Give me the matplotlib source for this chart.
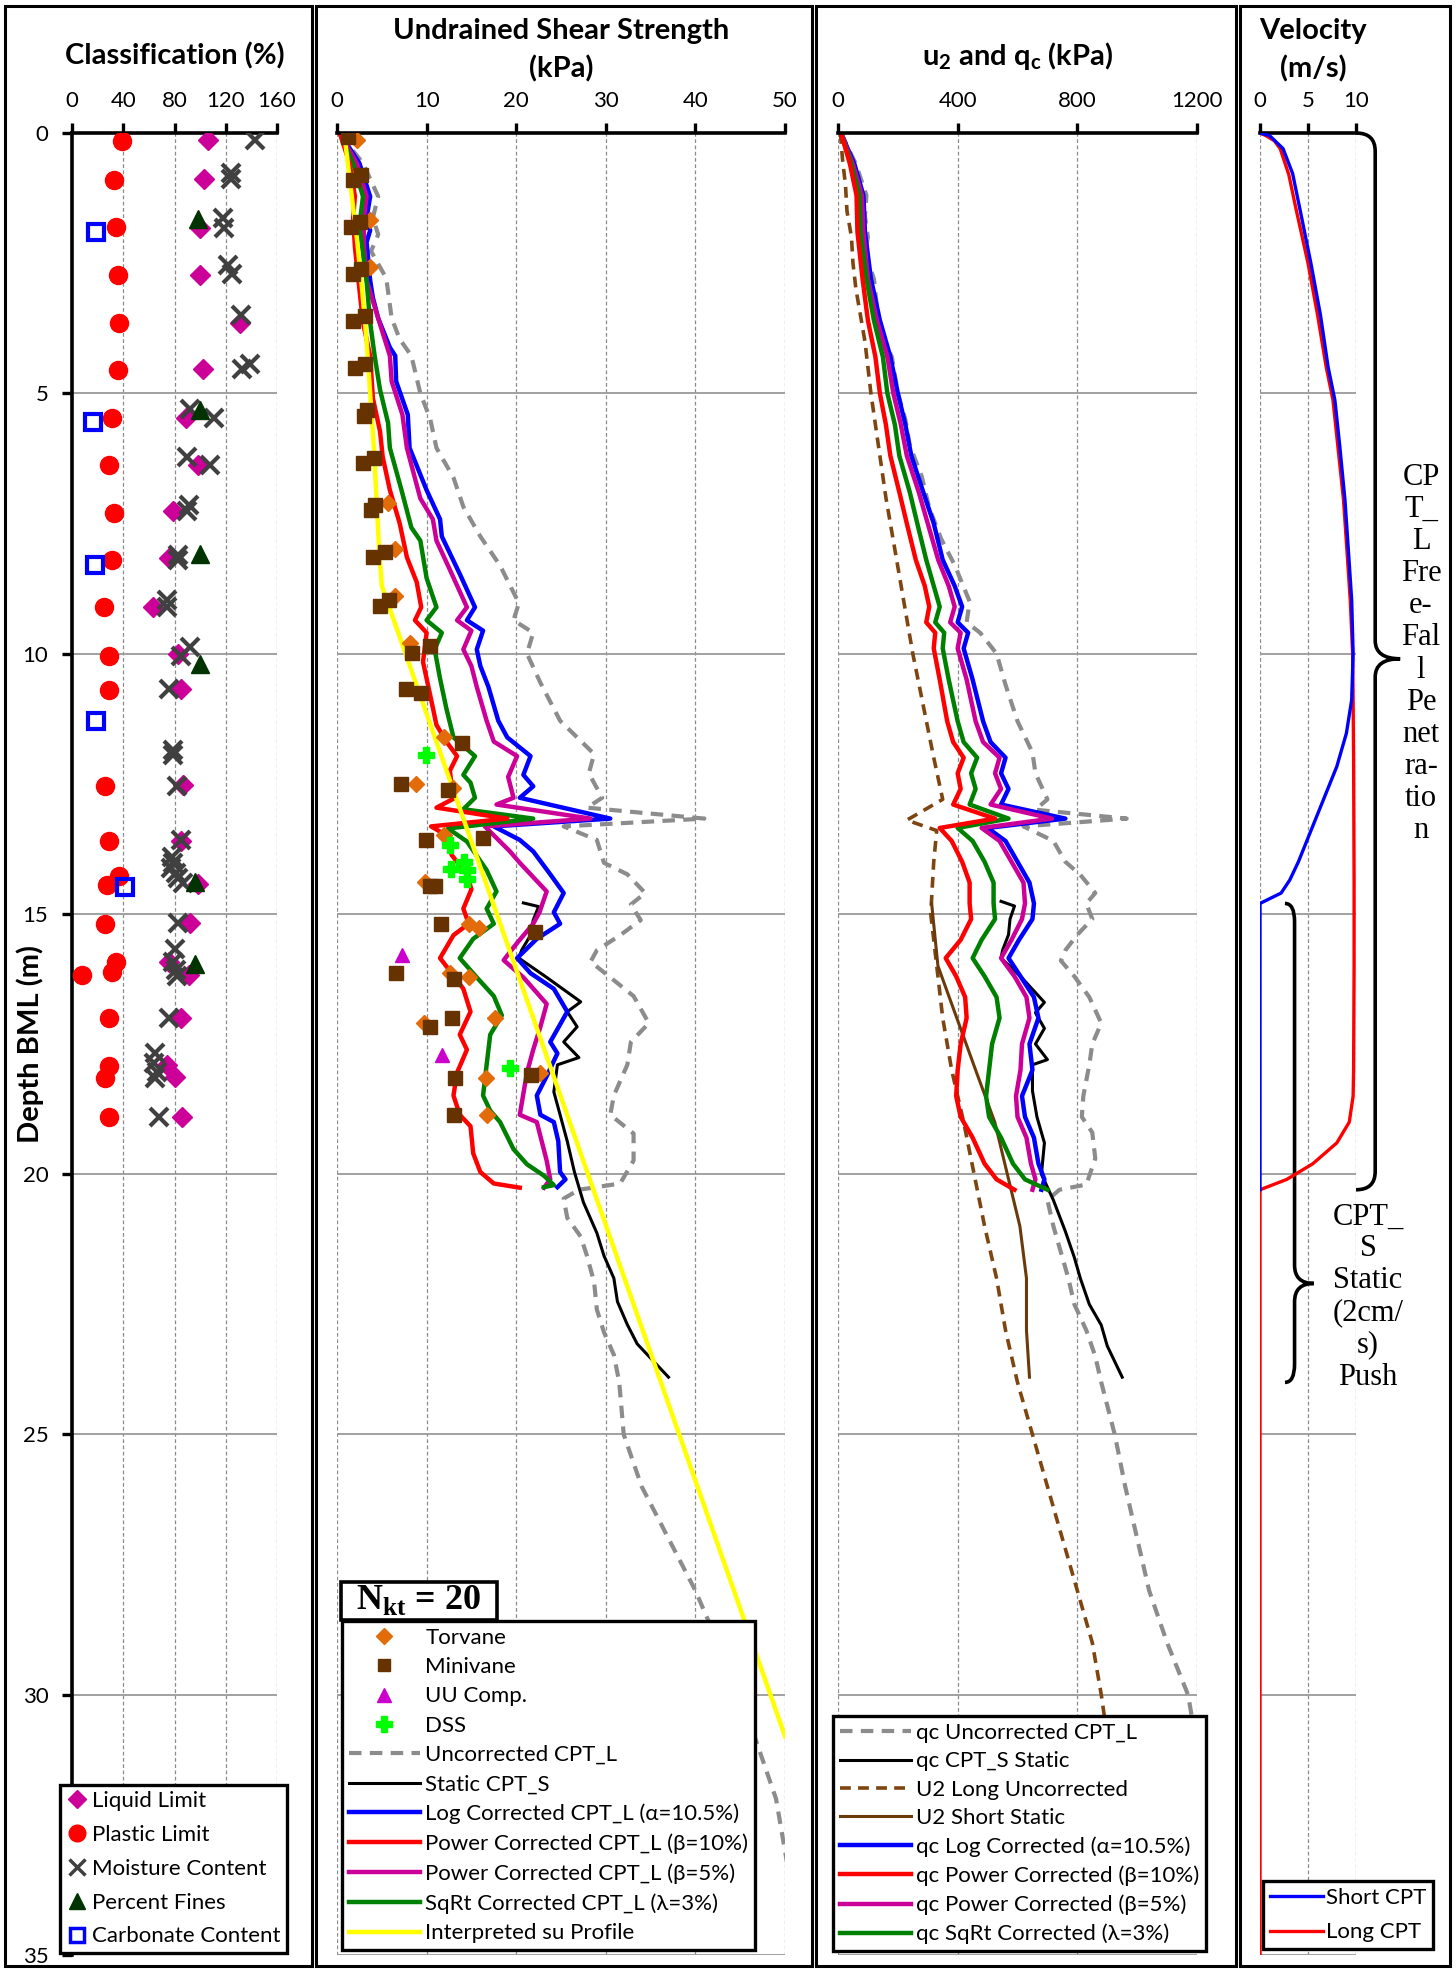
import numpy as np
import matplotlib.pyplot as plt
from matplotlib.lines import Line2D
from matplotlib.path import Path
from matplotlib.patches import PathPatch, Rectangle

plt.rcParams['font.family'] = ['Lato', 'DejaVu Sans']

# ---------------- classification data ----------------
ll_pct = [106, 103, 100, 100, 131, 102, 89, 98, 79, 76, 63, 83, 85, 87, 85, 98, 92, 76, 91, 85, 74, 80, 86]
ll_dep = [0.14, 0.89, 1.82, 2.72, 3.65, 4.54, 5.48, 6.38, 7.27, 8.16, 9.11, 10.0, 10.69, 12.52, 13.6,
          14.42, 15.18, 15.92, 16.17, 17.0, 17.9, 18.14, 18.9]
pl_pct = [39, 33, 34, 36, 37, 36, 31, 29, 33, 31, 25, 29, 29, 26, 29, 37, 27, 26, 34, 31, 8, 29, 29, 26, 29]
pl_dep = [0.15, 0.91, 1.81, 2.73, 3.65, 4.55, 5.48, 6.38, 7.30, 8.2, 9.11, 10.04, 10.70, 12.54, 13.61,
          14.27, 14.44, 15.19, 15.93, 16.11, 16.17, 17.0, 17.93, 18.16, 18.9]
mc_pct = [143, 124, 124, 118, 119, 122, 125, 132, 139, 133, 92, 111, 90, 108, 91, 90, 83, 83, 74, 74,
          92, 85, 76, 79, 79, 82, 85, 78, 79, 77, 81, 83, 87, 83, 80, 79, 81, 82, 76, 65, 64, 66, 65, 68]
mc_dep = [0.14, 0.76, 0.89, 1.63, 1.82, 2.54, 2.70, 3.5, 4.44, 4.54, 5.3, 5.47, 6.22, 6.38, 7.15, 7.27,
          8.1, 8.2, 8.97, 9.11, 9.87, 10.04, 10.69, 11.85, 11.95, 12.54, 13.59, 13.9, 14.03, 14.12,
          14.22, 14.31, 14.41, 15.18, 15.68, 15.92, 16.08, 16.19, 17.0, 17.68, 17.87, 18.03, 18.16, 18.9]
pf_pct = [98, 100, 100, 100, 96, 96]
pf_dep = [1.65, 5.32, 8.08, 10.2, 14.38, 15.96]
cc_pct = [19, 16, 18, 19, 41]
cc_dep = [1.9, 5.56, 8.3, 11.29, 14.49]

# ---------------- shear strength data (kPa) ----------------
tv_su = [2.2, 3.7, 3.7, 5.7, 6.5, 6.5, 8.1, 11.9, 8.8, 12.9, 11.9, 9.8, 14.7, 15.8, 12.6, 14.7, 17.6,
         9.7, 16.6, 22.7, 16.7]
tv_dep = [0.14, 1.67, 2.57, 7.1, 8.0, 8.9, 9.8, 11.61, 12.51, 12.58, 13.48, 14.38, 15.19, 15.28, 16.14,
          16.22, 17.0, 17.1, 18.16, 18.05, 18.87]
mv_su = [1.2, 1.8, 2.7, 1.6, 2.6, 1.8, 2.7, 1.8, 3.1, 2.0, 3.1, 3.0, 3.3, 2.9, 4.1, 3.8, 4.2, 4.0, 5.4,
         4.8, 5.8, 8.4, 10.4, 7.7, 9.4, 14.0, 7.1, 12.4, 9.9, 16.3, 10.4, 10.9, 11.6, 22.1, 6.6, 13.1,
         12.8, 10.4, 13.2, 21.6, 13.1]
mv_dep = [0.08, 0.9, 0.8, 1.8, 1.71, 2.71, 2.61, 3.62, 3.52, 4.52, 4.43, 5.43, 5.33, 6.34, 6.24, 7.25,
          7.14, 8.15, 8.05, 9.08, 8.97, 9.98, 9.86, 10.68, 10.76, 11.71, 12.51, 12.62, 13.59, 13.54,
          14.46, 14.46, 15.19, 15.35, 16.14, 16.25, 17.0, 17.17, 18.16, 18.09, 18.87]
uu_su = [7.3, 11.7]
uu_dep = [15.79, 17.72]
dss_su = [9.9, 12.6, 14.2, 12.7, 14.5, 14.5, 19.3]
dss_dep = [11.95, 13.67, 14.0, 14.13, 14.16, 14.33, 17.96]

unc_dep = [0.0, 0.3, 0.58, 1.22, 1.63, 1.95, 2.27, 2.79, 3.56, 3.96, 4.28, 5.0, 5.49, 6.05, 6.62, 7.18,
           7.75, 8.31, 9.03, 9.36, 9.6, 10.0, 10.56, 11.29, 11.93, 12.3, 12.77, 12.96, 13.17, 13.32,
           13.58, 14.02, 14.24, 14.6, 14.82, 15.12, 15.41, 15.7, 15.92, 16.22, 16.58, 17.1, 17.46, 17.9,
           18.49, 18.86, 19.22, 19.74, 20.18, 20.3, 20.47, 20.84, 21.2, 21.57, 22.08, 22.6, 23.04, 23.47,
           24, 25, 26, 27, 28, 29, 30, 31, 32, 33, 34, 35]
unc_su = [0.5, 1.6, 2.9, 4.6, 4.0, 4.6, 3.8, 5.5, 6.1, 7.0, 8.3, 9.3, 10.4, 11.1, 13.0, 14.1, 16.0, 18.2,
          20.3, 19.7, 21.9, 21.2, 22.7, 24.9, 28.7, 28.1, 29.6, 27.9, 41.0, 25.3, 29.0, 29.8, 32.4, 34.4,
          32.8, 33.9, 31.6, 29.0, 28.3, 30.5, 33.1, 34.8, 32.8, 32.4, 30.9, 30.5, 33.1, 33.1, 31.6, 27.0,
          25.3, 25.7, 27.2, 27.9, 28.7, 29.0, 29.8, 30.9, 31.5, 32, 34, 37, 40, 42.5, 45, 47, 49, 50, 51, 52]

sta_dep = [14.79, 14.86, 15.12, 15.41, 15.7, 15.85, 16.22, 16.69, 16.88, 17.17, 17.46, 17.76, 17.9,
           18.42, 18.86, 19.37, 19.96, 20.54, 21.13, 21.57, 22.0, 22.45, 22.89, 23.26, 23.9]
sta_su = [20.8, 22.5, 21.9, 21.6, 20.6, 20.3, 23.4, 27.2, 25.7, 26.8, 25.3, 27.0, 24.6, 24.2, 24.9,
          25.7, 26.5, 27.5, 29.0, 29.8, 30.9, 31.3, 32.4, 33.5, 37.0]

log_dep = [0.0, 0.58, 1.22, 1.63, 1.87, 2.1, 2.83, 3.16, 3.56, 4.12, 4.28, 4.77, 5.41, 6.05, 6.86, 7.42,
           7.75, 8.47, 9.11, 9.36, 9.56, 9.92, 10.24, 10.64, 11.29, 11.61, 11.97, 12.33, 12.55, 12.77,
           13.17, 13.32, 13.58, 13.8, 14.24, 14.6, 14.97, 15.19, 15.48, 15.85, 16.14, 16.44, 16.88,
           17.46, 17.68, 18.12, 18.49, 18.86, 19.0, 19.37, 19.96, 20.1, 20.25]
log_su = [0.3, 2.5, 3.7, 3.3, 3.7, 3.3, 3.7, 4.0, 4.6, 5.9, 6.5, 6.6, 7.9, 8.1, 10.0, 11.5, 11.7, 13.7,
          15.4, 14.5, 16.3, 15.6, 16.0, 16.9, 18.0, 19.0, 21.6, 20.8, 21.9, 20.4, 30.5, 17.5, 20.4, 21.9,
          23.8, 25.3, 24.2, 24.9, 22.3, 20.1, 21.6, 24.2, 25.7, 23.8, 24.6, 23.4, 22.3, 22.7, 24.2, 24.7,
          24.9, 25.5, 24.6]

pw5_dep = [0.0, 0.58, 1.22, 1.63, 2.1, 2.83, 3.56, 4.28, 4.77, 5.41, 6.05, 7.02, 7.42, 7.83, 8.39, 9.11,
           9.36, 9.56, 9.92, 10.24, 10.64, 11.29, 11.69, 11.97, 12.37, 12.77, 12.9, 13.17, 13.32, 13.8,
           14.02, 14.57, 14.97, 15.19, 15.56, 15.89, 16.22, 16.73, 17.17, 17.61, 18.05, 18.86, 19.0,
           19.74, 20.1, 20.26]
pw5_su = [0.3, 2.2, 3.3, 3.0, 3.0, 3.3, 4.6, 5.9, 6.1, 7.3, 7.8, 9.3, 10.7, 11.1, 12.6, 14.5, 13.4,
          15.0, 14.1, 15.0, 15.6, 16.7, 17.5, 20.1, 19.1, 19.7, 17.8, 28.3, 16.5, 19.3, 20.4, 23.4, 22.6,
          21.9, 20.1, 18.6, 20.8, 23.4, 22.7, 21.9, 21.2, 20.4, 22.3, 23.4, 23.8, 23.1]

sq_dep = [0.0, 0.58, 1.22, 1.79, 2.83, 3.64, 4.28, 4.93, 5.57, 6.05, 6.86, 7.58, 7.83, 8.55, 9.11, 9.36,
          9.6, 9.92, 10.48, 11.05, 11.61, 11.97, 12.33, 12.48, 12.77, 12.99, 13.17, 13.36, 13.61, 14.16,
          14.57, 14.9, 15.19, 15.48, 15.85, 16.22, 16.58, 16.95, 17.32, 17.9, 18.49, 18.78, 19.0, 19.52,
          19.81, 20.03, 20.21, 20.25]
sq_su = [0.3, 1.8, 2.9, 2.5, 3.3, 3.7, 4.2, 4.8, 5.7, 5.9, 7.2, 8.3, 9.3, 10.0, 11.1, 10.0, 11.7, 10.9,
         11.5, 12.2, 13.0, 15.4, 14.1, 14.9, 15.4, 14.1, 21.9, 12.4, 14.5, 16.7, 17.8, 16.7, 17.5, 15.2,
         13.7, 15.6, 17.5, 18.4, 17.1, 16.7, 16.3, 17.1, 18.2, 19.7, 21.2, 23.1, 24.2, 23.1]

pw10_dep = [0.0, 0.58, 1.22, 1.63, 2.19, 3.0, 3.64, 4.28, 5.09, 5.73, 6.22, 6.86, 7.5, 8.15, 8.63, 9.11,
            9.36, 9.6, 10.16, 10.8, 11.37, 11.69, 11.97, 12.25, 12.55, 12.77, 12.96, 13.17, 13.32, 13.5,
            13.87, 14.24, 14.53, 14.9, 15.19, 15.41, 15.85, 16.14, 16.44, 16.88, 17.32, 17.61, 18.05,
            18.49, 18.86, 19.08, 19.6, 19.96, 20.18, 20.26]
pw10_su = [0.3, 1.4, 2.0, 1.8, 2.0, 2.5, 2.9, 3.7, 4.0, 4.8, 5.1, 5.9, 7.0, 7.8, 8.9, 9.4, 8.7, 10.0, 9.6,
           10.4, 11.1, 12.2, 13.4, 12.6, 12.8, 13.2, 11.1, 19.0, 10.5, 12.3, 12.8, 14.5, 15.0, 14.1, 14.7,
           13.0, 11.5, 12.8, 14.1, 14.9, 13.7, 14.5, 13.4, 13.0, 13.7, 14.9, 15.2, 16.0, 17.5, 20.4]

int_dep = [0.0, 1.0, 2.0, 3.0, 4.0, 5.0, 6.0, 7.0, 8.0, 8.7, 30.8]
int_su = [0.8, 1.5, 2.2, 2.8, 3.3, 3.7, 4.1, 4.4, 4.7, 5.0, 50.0]

# ---------------- u2 and qc data (kPa) ----------------
qcu_dep = [0, 0.6, 1.2, 1.6, 2.0, 2.3, 2.8, 3.6, 4.0, 4.3, 5.0, 5.5, 6.0, 6.6, 7.2, 7.8, 8.3, 9.0, 9.4,
           9.6, 10.0, 10.6, 11.3, 11.9, 12.3, 12.8, 13.0, 13.17, 13.32, 13.6, 14.0, 14.25, 14.6, 14.8,
           15.1, 15.4, 15.7, 15.9, 16.2, 16.6, 17.1, 17.5, 17.9, 18.5, 18.9, 19.2, 19.7, 20.2, 20.3,
           20.5, 21, 21.5, 22, 22.5, 23, 23.5, 24, 25, 26, 27, 28, 29, 30, 31, 32, 33, 34, 35]
qcu = [10, 60, 95, 90, 100, 90, 120, 135, 155, 180, 200, 225, 240, 280, 305, 345, 390, 440, 430, 475,
       530, 560, 600, 650, 660, 700, 660, 965, 620, 720, 760, 810, 860, 830, 850, 800, 760, 745, 790,
       840, 880, 850, 840, 820, 815, 850, 860, 830, 740,
       700, 720, 745, 770, 790, 830, 860, 880, 925, 960, 1000, 1040, 1100, 1170, 1200, 1230, 1250, 1260, 1270]
qcs_dep = [14.76, 14.85, 15.1, 15.4, 15.7, 15.85, 16.2, 16.7, 16.9, 17.2, 17.5, 17.8, 17.9, 18.4, 18.9,
           19.4, 20.0, 20.5, 21.1, 21.6, 22.0, 22.5, 22.9, 23.3, 23.9]
qcs = [545, 590, 575, 570, 550, 545, 610, 690, 660, 690, 660, 700, 650, 650, 665, 690, 680, 720, 760,
       790, 810, 840, 880, 900, 950]
u2l_dep = [0, 0.5, 1, 1.5, 2, 2.5, 3, 4, 5, 6, 7, 8, 9, 10, 11, 12, 12.8, 13.2, 13.4, 14, 15, 16, 17,
           18, 19, 20, 21, 22, 23, 24, 25, 26, 27, 28, 29, 30, 31, 32, 33, 34, 35]
u2l = [8, 15, 25, 30, 45, 50, 60, 90, 110, 135, 160, 190, 220, 250, 285, 320, 350, 230, 330, 320, 310,
       330, 350, 380, 420, 455, 490, 530, 560, 600, 650, 700, 750, 800, 850, 880, 905, 920, 935, 950, 985]
u2s_dep = [14.8, 16, 17, 18, 19, 20, 21, 22, 23, 23.9]
u2s = [313, 334, 397, 460, 524, 566, 608, 630, 630, 640]

qc_dep = [0, 0.6, 1.2, 1.9, 2.8, 3.6, 4.3, 5.0, 5.6, 6.2, 6.9, 7.5, 8.2, 8.7, 9.1, 9.4, 9.6, 9.9, 10.5,
          11.3, 11.7, 12.0, 12.3, 12.6, 12.9, 13.17, 13.35, 13.6, 14.0, 14.4, 14.8, 15.1, 15.5, 15.85,
          16.2, 16.6, 17.0, 17.5, 18.0, 18.5, 18.9, 19.3, 19.8, 20.1, 20.3]
qc_log = [10, 55, 85, 90, 110, 140, 175, 200, 225, 245, 285, 320, 350, 390, 415, 400, 435, 420, 450, 485,
          510, 560, 545, 570, 545, 760, 500, 560, 600, 640, 655, 650, 605, 570, 610, 655, 670, 640, 650,
          615, 625, 655, 670, 690, 680]
qc_pw5 = [10, 50, 80, 85, 100, 130, 165, 185, 210, 230, 270, 300, 335, 370, 390, 375, 410, 400, 430, 460,
          485, 540, 525, 545, 510, 715, 480, 540, 580, 620, 625, 615, 580, 545, 590, 630, 640, 615, 610,
          595, 600, 630, 645, 660, 650]
qc_sq = [10, 45, 72, 75, 95, 120, 150, 165, 190, 205, 240, 265, 295, 320, 340, 325, 355, 350, 370, 400,
         420, 465, 445, 460, 440, 570, 400, 450, 490, 520, 520, 525, 480, 450, 490, 530, 540, 515, 505,
         495, 505, 545, 585, 625, 700]
qc_pw10 = [10, 40, 62, 65, 82, 100, 125, 140, 160, 175, 205, 230, 260, 290, 305, 295, 325, 320, 340, 365,
           385, 420, 400, 410, 385, 525, 340, 380, 415, 440, 440, 445, 410, 360, 395, 425, 430, 410, 400,
           395, 410, 450, 490, 530, 590]

# ---------------- velocity data (m/s) ----------------
vl_dep = [0, 0.05, 0.15, 0.3, 0.8, 1.5, 2.5, 3.5, 4.5, 5.13, 6, 7.05, 8, 8.97, 10.0, 10.9, 12, 14.35,
          16, 18, 18.5, 19.0, 19.4, 19.8, 20.1, 20.3, 35]
vl = [0, 0.6, 1.5, 2.1, 3.0, 3.8, 5.0, 6.0, 6.9, 7.6, 8.1, 8.7, 9.05, 9.4, 9.65, 9.7, 9.75, 9.8, 9.8,
      9.75, 9.7, 9.3, 8.0, 5.5, 2.8, 0, 0]
vs_dep = [0, 0.05, 0.3, 0.78, 1.5, 2.5, 3.5, 4.5, 5.13, 6, 7.05, 8, 8.97, 10.0, 10.89, 11.53, 12.17,
          12.81, 13.45, 14.0, 14.35, 14.6, 14.8, 20.3]
vs = [0, 1.0, 2.4, 3.4, 4.2, 5.3, 6.3, 7.1, 7.8, 8.3, 8.85, 9.2, 9.55, 9.7, 9.55, 9.0, 8.0, 6.6, 5.2,
      4.0, 3.1, 2.2, 0, 0]

# ---------------- figure ----------------
W, H = 1456, 1971
fig = plt.figure(figsize=(W / 100, H / 100), dpi=100)
Y0, Y1 = 133, 1955
FS = 16
TFS = 21


def add_panel(x0, x1):
    return fig.add_axes([x0 / W, 1 - Y1 / H, (x1 - x0) / W, (Y1 - Y0) / H])


def style(ax, xmax, step, first=False):
    ax.set_xlim(0, xmax)
    ax.set_ylim(35, 0)
    ax.xaxis.tick_top()
    ax.set_xticks(np.arange(0, xmax + step / 2, step))
    ax.set_yticks(range(0, 36, 5))
    ax.spines['right'].set_visible(False)
    ax.spines['bottom'].set_visible(False)
    ax.spines['top'].set_linewidth(2.6)
    ax.spines['left'].set_linewidth(2.6)
    ax.spines['left'].set_visible(first)
    ax.tick_params(axis='x', direction='out', length=7, width=2.4, labelsize=FS, pad=9)
    if first:
        ax.tick_params(axis='y', direction='out', length=7, width=2.4, labelsize=FS, pad=10)
    else:
        ax.tick_params(axis='y', length=0, labelleft=False)
    ax.xaxis.grid(True, ls=(0, (3, 2)), color='#8c8c8c', lw=0.9)
    ax.yaxis.grid(True, ls='-', color='#9a9a9a', lw=1.3)
    ax.set_axisbelow(True)


def box_legend(ax, handles, labels, x0, y0, **kw):
    leg = ax.legend(handles, labels, loc='lower left', bbox_to_anchor=(x0 / W, 1 - y0 / H),
                    bbox_transform=fig.transFigure, fontsize=FS, frameon=True, fancybox=False,
                    edgecolor='black', framealpha=1, borderaxespad=0, **kw)
    leg.get_frame().set_linewidth(2.4)
    return leg


# panel frames
for bx0, bx1 in [(5, 312), (316, 812), (816, 1236), (1240, 1450)]:
    fig.add_artist(Rectangle((bx0 / W, 1 - 1966 / H), (bx1 - bx0) / W, (1966 - 6) / H,
                             transform=fig.transFigure, fill=False, ec='black', lw=2.2))

# ---- classification ----
ax1 = add_panel(72, 277)
style(ax1, 160, 40, first=True)
ax1.plot(ll_pct, ll_dep, 'D', color='#CC0099', ms=10, ls='none', zorder=3)
ax1.plot(pl_pct, pl_dep, 'o', color='red', ms=13, ls='none', zorder=3)
ax1.plot(mc_pct, mc_dep, 'x', color='#404040', ms=13, mew=3, ls='none', zorder=4)
ax1.plot(pf_pct, pf_dep, '^', color='#003300', ms=13, ls='none', zorder=5)
ax1.plot(cc_pct, cc_dep, 's', mfc='none', mec='blue', mew=3, ms=11, ls='none', zorder=5)
h1 = [Line2D([], [], ls='none', marker='D', color='#CC0099', ms=9),
      Line2D([], [], ls='none', marker='o', color='red', ms=12),
      Line2D([], [], ls='none', marker='x', color='#404040', ms=11, mew=2.5),
      Line2D([], [], ls='none', marker='^', color='#003300', ms=12),
      Line2D([], [], ls='none', marker='s', mfc='none', mec='blue', mew=2.5, ms=10)]
l1 = ['Liquid Limit', 'Plastic Limit', 'Moisture Content', 'Percent Fines', 'Carbonate Content']
box_legend(ax1, h1, l1, 60, 1953, handlelength=0.9, handletextpad=0.25, labelspacing=0.62, borderpad=0.3)
fig.text(175 / W, 1 - 56 / H, 'Classification (%)', ha='center', va='center', fontsize=TFS,
         fontweight='bold')
fig.text(30 / W, 1 - 1044 / H, 'Depth BML (m)', ha='center', va='center', rotation=90,
         fontsize=TFS, fontweight='bold')

# ---- shear strength ----
ax2 = add_panel(337, 785)
style(ax2, 50, 10)
ax2.plot(unc_su, unc_dep, color='#8c8c8c', lw=3, ls=(0, (3, 2)))
ax2.plot(sta_su, sta_dep, color='black', lw=2.2)
ax2.plot(log_su, log_dep, color='blue', lw=3.2)
ax2.plot(pw5_su, pw5_dep, color='#CC0099', lw=3.2)
ax2.plot(sq_su, sq_dep, color='green', lw=3.2)
ax2.plot(pw10_su, pw10_dep, color='red', lw=3.2)
ax2.plot(int_su, int_dep, color='yellow', lw=3.2)
ax2.plot(tv_su, tv_dep, 'D', color='#E26B0A', ms=8, ls='none', zorder=5)
ax2.plot(mv_su, mv_dep, 's', color='#663300', ms=10, ls='none', zorder=5)
ax2.plot(uu_su, uu_dep, '^', color='#CC00CC', ms=10, ls='none', zorder=5)
ax2.plot(dss_su, dss_dep, 'P', color='#00FF00', ms=12, ls='none', zorder=6)
h2 = [Line2D([], [], ls='none', marker='D', color='#E26B0A', ms=8),
      Line2D([], [], ls='none', marker='s', color='#663300', ms=9),
      Line2D([], [], ls='none', marker='^', color='#CC00CC', ms=10),
      Line2D([], [], ls='none', marker='P', color='#00FF00', ms=11),
      Line2D([], [], color='#8c8c8c', lw=3, ls=(0, (3, 2))),
      Line2D([], [], color='black', lw=2.2),
      Line2D([], [], color='blue', lw=3.2),
      Line2D([], [], color='red', lw=3.2),
      Line2D([], [], color='#CC0099', lw=3.2),
      Line2D([], [], color='green', lw=3.2),
      Line2D([], [], color='yellow', lw=3.2)]
l2 = ['Torvane', 'Minivane', 'UU Comp.', 'DSS', 'Uncorrected CPT_L', 'Static CPT_S',
      'Log Corrected CPT_L (\u03b1=10.5%)', 'Power Corrected CPT_L (\u03b2=10%)',
      'Power Corrected CPT_L (\u03b2=5%)', 'SqRt Corrected CPT_L (\u03bb=3%)', 'Interpreted su Profile']
box_legend(ax2, h2, l2, 342, 1950, handlelength=3.2, handletextpad=0.25, labelspacing=0.42, borderpad=0.3)
fig.text(561 / W, 1 - 31 / H, 'Undrained Shear Strength', ha='center', va='center', fontsize=TFS,
         fontweight='bold')
fig.text(561 / W, 1 - 69 / H, '(kPa)', ha='center', va='center', fontsize=TFS, fontweight='bold')
fig.add_artist(Rectangle((341 / W, 1 - 1620 / H), 156 / W, 38 / H, transform=fig.transFigure,
                         fc='white', ec='black', lw=2.6))
fig.text(356 / W, 1 - 1600 / H, r'N$_\mathregular{kt}$ = 20', ha='left', va='center', fontsize=26,
         fontweight='bold', family='Liberation Serif')

# ---- u2 and qc ----
ax3 = add_panel(838, 1197)
style(ax3, 1200, 400)
ax3.plot(qcu, qcu_dep, color='#8c8c8c', lw=3, ls=(0, (3, 2)))
ax3.plot(u2l, u2l_dep, color='#7F4510', lw=2.6, ls=(0, (3, 2)))
ax3.plot(u2s, u2s_dep, color='#6B3A0A', lw=2.2)
ax3.plot(qcs, qcs_dep, color='black', lw=2.2)
ax3.plot(qc_log, qc_dep, color='blue', lw=3.2)
ax3.plot(qc_pw5, qc_dep, color='#CC0099', lw=3.2)
ax3.plot(qc_sq, qc_dep, color='green', lw=3.2)
ax3.plot(qc_pw10, qc_dep, color='red', lw=3.2)
h3 = [Line2D([], [], color='#8c8c8c', lw=3, ls=(0, (3, 2))),
      Line2D([], [], color='black', lw=2.2),
      Line2D([], [], color='#7F4510', lw=2.6, ls=(0, (3, 2))),
      Line2D([], [], color='#6B3A0A', lw=2.2),
      Line2D([], [], color='blue', lw=3.2),
      Line2D([], [], color='red', lw=3.2),
      Line2D([], [], color='#CC0099', lw=3.2),
      Line2D([], [], color='green', lw=3.2)]
l3 = ['qc Uncorrected CPT_L', 'qc CPT_S Static', 'U2 Long Uncorrected', 'U2 Short Static',
      'qc Log Corrected (\u03b1=10.5%)', 'qc Power Corrected (\u03b2=10%)',
      'qc Power Corrected (\u03b2=5%)', 'qc SqRt Corrected (\u03bb=3%)']
box_legend(ax3, h3, l3, 833, 1951, handlelength=3.2, handletextpad=0.25, labelspacing=0.38, borderpad=0.3)
fig.text(1017 / W, 1 - 56 / H, r'u$_\mathregular{2}$ and q$_\mathregular{c}$ (kPa)', ha='center',
         va='center', fontsize=TFS, fontweight='bold')

# ---- velocity ----
ax4 = add_panel(1260, 1356)
style(ax4, 10, 5)
ax4.plot(vs, vs_dep, color='blue', lw=2.4, zorder=4)
ax4.plot(vl, vl_dep, color='red', lw=2.4, zorder=3)
h4 = [Line2D([], [], color='blue', lw=2.4), Line2D([], [], color='red', lw=2.4)]
box_legend(ax4, h4, ['Short CPT', 'Long CPT'], 1263, 1949, handlelength=2.4, handletextpad=0.15,
           labelspacing=0.65, borderpad=0.3)
fig.text(1313 / W, 1 - 31 / H, 'Velocity', ha='center', va='center', fontsize=TFS, fontweight='bold')
fig.text(1313 / W, 1 - 69 / H, '(m/s)', ha='center', va='center', fontsize=TFS, fontweight='bold')


def brace(ax, x, d0, d1, dtip, xtip, xarm, r=0.35):
    verts = [(xarm, d0), (x, d0), (x, d0 + r),
             (x, dtip - r), (x, dtip), (xtip, dtip),
             (x, dtip), (x, dtip + r),
             (x, d1 - r), (x, d1), (xarm, d1)]
    codes = [Path.MOVETO, Path.CURVE3, Path.CURVE3,
             Path.LINETO, Path.CURVE3, Path.CURVE3,
             Path.CURVE3, Path.CURVE3,
             Path.LINETO, Path.CURVE3, Path.CURVE3]
    ax.add_patch(PathPatch(Path(verts, codes), fill=False, lw=2.6, ec='black', clip_on=False))


brace(ax4, 12.0, 0.0, 20.3, 10.1, 14.6, 10.0)
brace(ax4, 3.6, 14.8, 24.0, 22.1, 5.6, 2.6)

fig.text(1421 / W, 1 - 654 / H, 'CP\nT_\nL\nFre\ne-\nFal\nl\nPe\nnet\nra-\ntio\nn', ha='center',
         va='center', fontsize=22, family='Liberation Serif', linespacing=1.14)
fig.text(1368 / W, 1 - 1297 / H, 'CPT_\nS\nStatic\n(2cm/\ns)\nPush', ha='center', va='center',
         fontsize=22, family='Liberation Serif', linespacing=1.14)

fig.savefig('out.png', dpi=100)
